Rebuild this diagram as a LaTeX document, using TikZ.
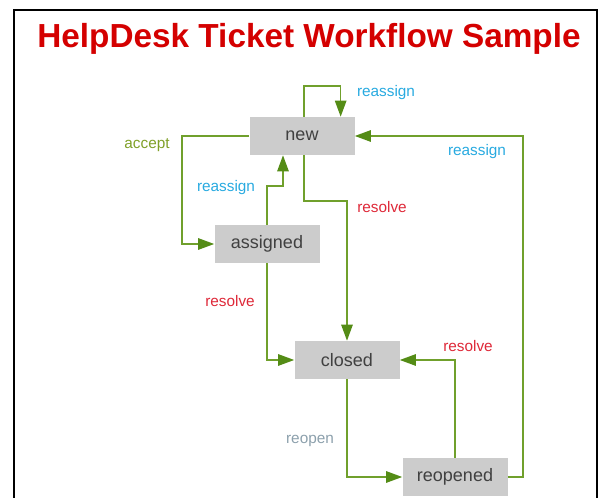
\documentclass[tikz,border=0pt]{standalone}
\usepackage{fontspec}
\setmainfont{Liberation Sans}
\usetikzlibrary{arrows.meta}
\definecolor{flowgreen}{RGB}{112,160,44}
\definecolor{tipgreen}{RGB}{84,140,22}
\definecolor{boxgray}{RGB}{204,204,204}
\definecolor{boxtext}{RGB}{64,64,64}
\definecolor{titlered}{RGB}{212,0,0}
\definecolor{lblblue}{RGB}{40,170,224}
\definecolor{lblred}{RGB}{222,40,56}
\definecolor{lblolive}{RGB}{128,160,40}
\definecolor{lblgray}{RGB}{140,160,172}
\begin{document}
\begin{tikzpicture}[
        x=0.75pt, y=-0.75pt,
        state/.style={fill=boxgray, text=boxtext, minimum width=78.75pt, minimum height=28.5pt,
            inner sep=0pt, font=\fontsize{13.5}{16}\selectfont},
        flow/.style={draw=flowgreen, line width=1.2pt,
            -{Triangle[length=12pt, width=8.5pt, fill=tipgreen, color=tipgreen]}},
        lbl/.style={inner sep=0pt, font=\fontsize{11.5}{14}\selectfont},
    ]
        \useasboundingbox (0,0) rectangle (601,498);
        \draw[line width=1.5pt] (14,500) -- (14,10) -- (597,10) -- (597,500);

        \node[font=\fontsize{25}{30}\selectfont\bfseries, text=titlered] (title) at (309,39) {HelpDesk Ticket Workflow Sample};

        % states
        \node[state] (new) at (302,136) {new};
        \node[state] (assigned) at (267,244) {assigned};
        \node[state] (closed) at (347,360) {closed};
        \node[state] (reopened) at (455,477) {reopened};

        % transitions
        \draw[flow] ([xshift=1.5pt]new.north) -- ++(0,-31) -| ([xshift=29pt]new.north);
        \draw[flow] (new.west) -- ++(-67,0) |- (assigned.west);
        \draw[flow] (assigned.north) -- ++(0,-39) -| ([xshift=-14.25pt]new.south);
        \draw[flow] ([xshift=1.5pt]new.south) -- ++(0,46) -| (closed.north);
        \draw[flow] (assigned.south) |- (closed.west);
        \draw[flow] (closed.south) |- (reopened.west);
        \draw[flow] (reopened.north) |- (closed.east);
        \draw[flow] (reopened.east) -- ++(15,0) |- (new.east);

        % labels
        \node[lbl, text=lblblue] (l-loop) at (386,93) {reassign};
        \node[lbl, text=lblolive] (l-accept) at (147,145) {accept};
        \node[lbl, text=lblblue] (l-back) at (226,188) {reassign};
        \node[lbl, text=lblred] (l-newres) at (382,207) {resolve};
        \node[lbl, text=lblred] (l-asgres) at (230,301) {resolve};
        \node[lbl, text=lblred] (l-reores) at (468,346) {resolve};
        \node[lbl, text=lblgray] (l-reopen) at (310,441) {reopen};
        \node[lbl, text=lblblue] (l-reassign) at (477,152) {reassign};
\end{tikzpicture}
\end{document}
